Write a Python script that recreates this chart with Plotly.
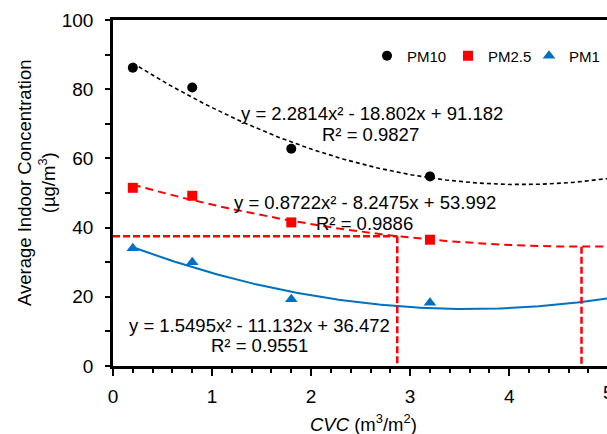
import numpy as np
import plotly.graph_objects as go

# ---- data ----
cvc = [0.2, 0.8, 1.8, 3.2, 5.0]
pm10 = [86.2, 80.5, 62.8, 54.8, 54.2]
pm25 = [51.5, 49.2, 41.5, 36.5, 34.7]
pm1 = [34.0, 30.0, 19.3, 18.3, 19.3]

# quadratic trend-line coefficients (a, b, c) as printed on the chart
coef_pm10 = [2.2814, -18.802, 91.182]
coef_pm25 = [0.8722, -8.2475, 53.992]
coef_pm1 = [1.5495, -11.132, 36.472]
r2_pm10, r2_pm25, r2_pm1 = 0.9827, 0.9886, 0.9551

# reference (threshold) lines
threshold_y = 37.5
cross_x = [2.87, 4.73]
cross_y = [37.5, 34.5]

x_ticks = [0, 1, 2, 3, 4, 5]
y_ticks = [0, 20, 40, 60, 80, 100]

FONT = "Liberation Sans, Arial, sans-serif"
RED = "#FF0000"
BLUE = "#0070C0"

W, H = 607, 434
L, R, T, B = 113, 0, 20, 68
plot_w = W - L - R
plot_h = H - T - B
px_per_unit = 99.05
x_max = plot_w / px_per_unit

xs = np.linspace(min(cvc), max(cvc), 200)


def quad(c, x):
    return c[0] * x ** 2 + c[1] * x + c[2]


fig = go.Figure()

# trend lines
fig.add_trace(go.Scatter(x=xs, y=quad(coef_pm10, xs), mode="lines",
                         line=dict(color="black", width=1.6, dash="4px,3px"),
                         showlegend=False, hoverinfo="skip"))
fig.add_trace(go.Scatter(x=xs, y=quad(coef_pm25, xs), mode="lines",
                         line=dict(color=RED, width=2, dash="8px,5px"),
                         showlegend=False, hoverinfo="skip"))
fig.add_trace(go.Scatter(x=xs, y=quad(coef_pm1, xs), mode="lines",
                         line=dict(color=BLUE, width=2),
                         showlegend=False, hoverinfo="skip"))

# threshold lines
fig.add_trace(go.Scatter(x=[0, cross_x[0]], y=[threshold_y, threshold_y], mode="lines",
                         line=dict(color=RED, width=2.5, dash="7px,3px"),
                         showlegend=False, hoverinfo="skip"))
for cx, cy in zip(cross_x, cross_y):
    fig.add_trace(go.Scatter(x=[cx, cx], y=[cy, 0], mode="lines",
                             line=dict(color=RED, width=2.5, dash="7px,3px"),
                             showlegend=False, hoverinfo="skip"))

# data points
fig.add_trace(go.Scatter(x=cvc, y=pm10, mode="markers", name="PM10",
                         marker=dict(symbol="circle", size=10, color="black"),
                         cliponaxis=False))
fig.add_trace(go.Scatter(x=cvc, y=pm25, mode="markers", name="PM2.5",
                         marker=dict(symbol="square", size=10, color=RED),
                         cliponaxis=False))
fig.add_trace(go.Scatter(x=cvc, y=pm1, mode="markers", name="PM1",
                         marker=dict(symbol="triangle-up", size=11, color=BLUE),
                         cliponaxis=False))


def eq_text(c):
    def num(v):
        return f"{abs(v):g}"
    s = f"y = {num(c[0])}x² {'-' if c[1] < 0 else '+'} {num(c[1])}x {'-' if c[2] < 0 else '+'} {num(c[2])}"
    return s


eq_font = dict(family=FONT, size=18.5, color="black")
ann = [
    (eq_text(coef_pm10), 2.61, 73.1),
    (f"R² = {r2_pm10}", 2.60, 66.8),
    (eq_text(coef_pm25), 2.54, 47.4),
    (f"R² = {r2_pm25}", 2.54, 41.3),
    (eq_text(coef_pm1), 1.48, 11.6),
    (f"R² = {r2_pm1}", 1.48, 5.8),
]
for txt, ax_, ay_ in ann:
    fig.add_annotation(x=ax_, y=ay_, xref="x", yref="y", text=txt, showarrow=False,
                       font=eq_font, xanchor="center", yanchor="middle")

# tick label "5" sits just beyond the visible edge
fig.add_annotation(x=(5 * px_per_unit) / plot_w, y=0, xref="paper", yref="paper",
                   text=str(x_ticks[-1]), showarrow=False, xanchor="center", yanchor="top",
                   yshift=-14, font=dict(family=FONT, size=19, color="black"))

# axis titles
fig.add_annotation(x=(36 - L) / plot_w, y=(H - B - 183) / plot_h, xref="paper", yref="paper",
                   text="Average Indoor Concentration<br>(µg/m<sup>3</sup>)", textangle=-90,
                   showarrow=False, font=dict(family=FONT, size=18.5, color="black"),
                   xanchor="center", yanchor="middle")
fig.add_annotation(x=(363 - L) / plot_w, y=(H - B - 423) / plot_h, xref="paper", yref="paper",
                   text="<i>CVC</i> (m<sup>3</sup>/m<sup>2</sup>)",
                   showarrow=False, font=dict(family=FONT, size=18.5, color="black"),
                   xanchor="center", yanchor="middle")

fig.update_xaxes(range=[0, x_max], tickvals=x_ticks, ticks="outside", ticklen=7, tickwidth=2,
                 tickcolor="black", showline=True, linecolor="black", linewidth=2.5, mirror=True,
                 showgrid=False, zeroline=False, automargin=False,
                 minor=dict(dtick=0.2, ticks="outside", ticklen=4, tickwidth=2, tickcolor="black",
                            showgrid=False),
                 tickfont=dict(family=FONT, size=19, color="black"), ticklabelstandoff=4)
fig.update_yaxes(range=[0, 100], tickvals=y_ticks, ticks="outside", ticklen=5, tickwidth=2,
                 tickcolor="black", showline=True, linecolor="black", linewidth=2.5,
                 showgrid=False, zeroline=False, automargin=False,
                 minor=dict(dtick=10, ticks="outside", ticklen=5, tickwidth=2, tickcolor="black",
                            showgrid=False),
                 tickfont=dict(family=FONT, size=19, color="black"), ticklabelstandoff=8)

fig.update_layout(
    width=W, height=H,
    margin=dict(l=L, r=R, t=T, b=B, pad=0, autoexpand=False),
    paper_bgcolor="white", plot_bgcolor="white",
    font=dict(family=FONT, color="black"),
    legend=dict(orientation="h", x=(367 - L) / plot_w, y=(H - B - 56) / plot_h,
                xanchor="left", yanchor="middle", bgcolor="rgba(0,0,0,0)",
                font=dict(family=FONT, size=15, color="black"), itemwidth=30,
                entrywidth=36, entrywidthmode="pixels", tracegroupgap=0),
)

fig.write_html("out.html", config={"displayModeBar": False},
               post_script="document.body.style.margin='0';document.body.style.overflow='hidden';")
